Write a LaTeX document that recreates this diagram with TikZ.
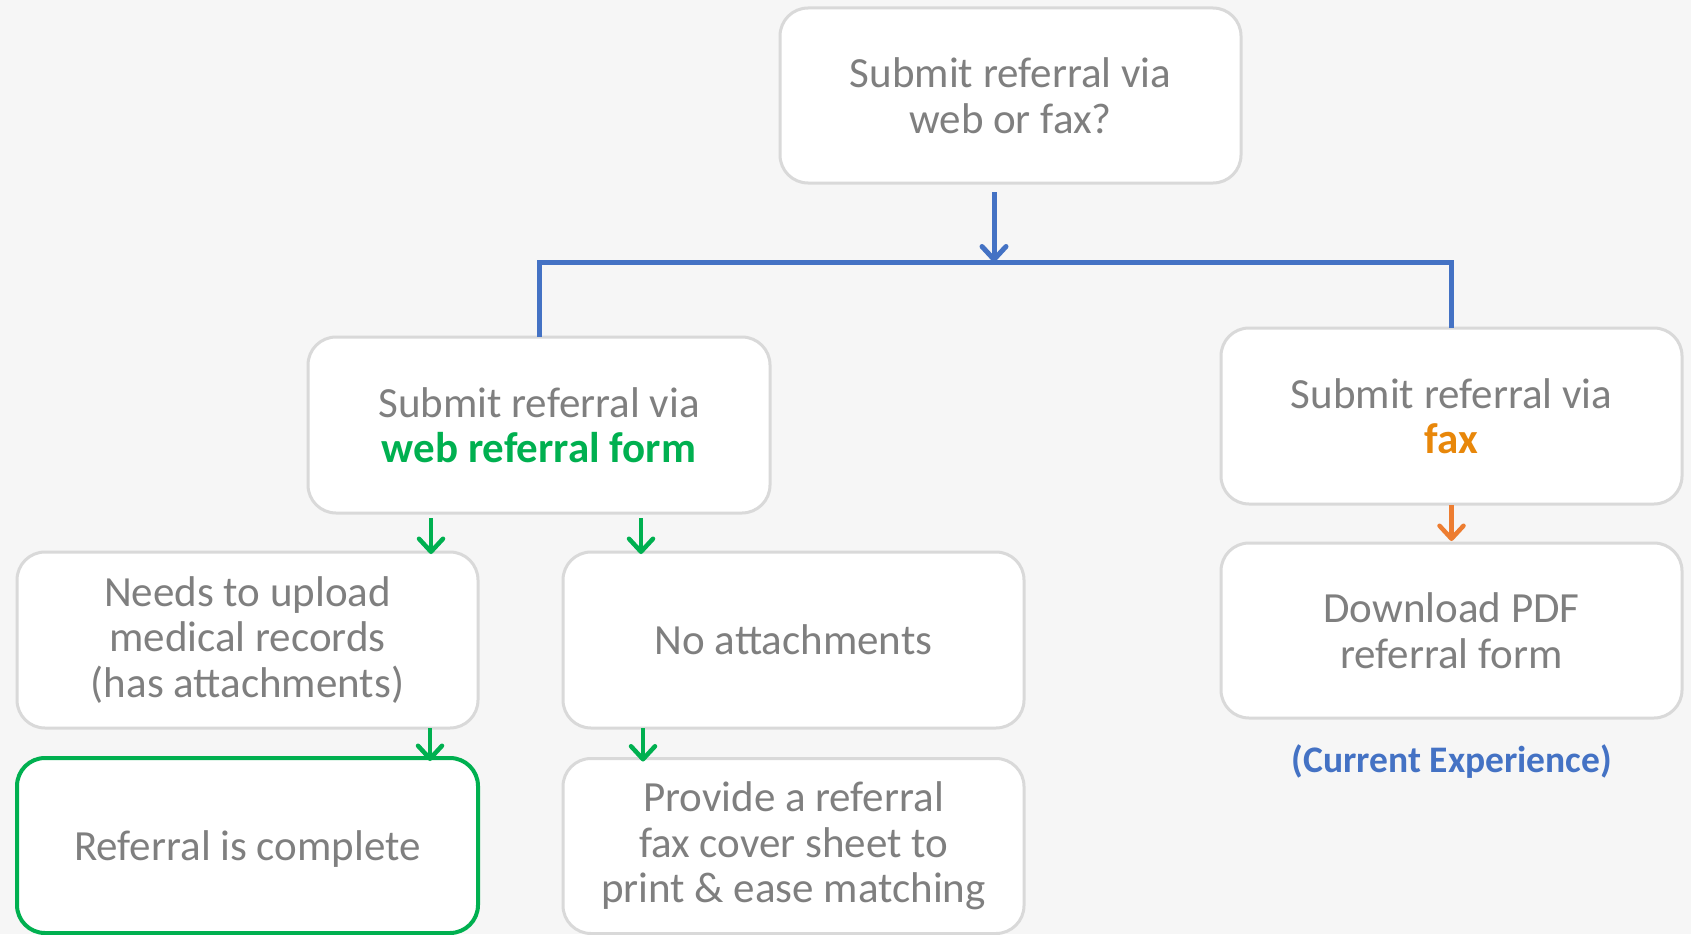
\documentclass[tikz,border=0pt]{standalone}
\usepackage{fontspec}
\setmainfont{Carlito}
\usetikzlibrary{arrows.meta}
\definecolor{bgcol}{HTML}{F6F6F6}
\definecolor{boxline}{HTML}{D9D9D9}
\definecolor{txtgray}{HTML}{7F7F7F}
\definecolor{flowblue}{HTML}{4472C4}
\definecolor{flowgreen}{HTML}{00B050}
\definecolor{faxorange}{HTML}{E8870A}
\definecolor{arroworange}{HTML}{ED7D31}
\tikzset{
  box/.style={draw=boxline, line width=3pt, fill=white, rounded corners=28pt,
    minimum width=461pt, minimum height=175pt, inner sep=0pt, outer sep=0pt,
    align=center, text=txtgray, font=\fontsize{43}{45.5}\selectfont},
  donebox/.style={box, draw=flowgreen, line width=4pt},
  bline/.style={draw=flowblue, line width=5pt, line join=miter},
  tipstyle/.style={-{Straight Barb[length=13pt,width=24pt,line cap=round,line join=round]}},
  barrow/.style={draw=flowblue, line width=5pt, tipstyle},
  garrow/.style={draw=flowgreen, line width=4.5pt, tipstyle},
  oarrow/.style={draw=arroworange, line width=4.5pt, tipstyle},
}
\begin{document}
\begin{tikzpicture}[x=1pt,y=-1pt]
  \fill[bgcol] (0,0) rectangle (1691,934);
  \useasboundingbox (0,0) rectangle (1691,934);

  % boxes
  \node[box] (top) at (1010.5,95.5) {Submit referral via\\web or fax?};
  \node[box, minimum width=462pt, minimum height=176pt] (web) at (539,425)
    {Submit referral via\\\textcolor{flowgreen}{\bfseries web referral form}};
  \node[box, minimum height=176pt] (fax) at (1451.5,416)
    {Submit referral via\\\textcolor{faxorange}{\bfseries fax}};
  \node[box] (dl) at (1451.5,630.5) {Download PDF\\referral form};
  \node[box, minimum height=176pt] (needs) at (247.5,640)
    {Needs to upload\\medical records\\(has attachments)};
  \node[box, minimum height=176pt] (noatt) at (793.5,640) {No attachments};
  \node[donebox] (done) at (247.5,845.5)
    {\raisebox{0pt}[\dimexpr\height+8pt\relax][\depth]{Referral is complete}};
  \node[box, minimum height=175pt] (provide) at (793.5,846)
    {Provide a referral\\fax cover sheet to\\print \& ease matching};
  \node[text=flowblue, font=\fontsize{37.5}{40}\selectfont\bfseries] (note) at (1452,762)
    {(Current Experience)};

  % branch from the first question
  \coordinate (junction) at (994,262);
  \draw[bline] (web.north) |- (junction) -| (fax.north);
  \draw[barrow, shorten <=9pt] (top.south -| junction) -- (junction);

  % web branch arrows
  \coordinate (gx1) at (431,0);
  \coordinate (gx2) at (641,0);
  \coordinate (gx3) at (430,0);
  \coordinate (gx4) at (643,0);
  \draw[garrow, shorten <=5pt, shorten >=-2pt] (web.south -| gx1) -- (needs.north -| gx1);
  \draw[garrow, shorten <=5pt, shorten >=-2pt] (web.south -| gx2) -- (noatt.north -| gx2);
  \draw[garrow, shorten >=-3pt] (needs.south -| gx3) -- (done.north -| gx3);
  \draw[garrow, shorten >=-3pt] (noatt.south -| gx4) -- (provide.north -| gx4);

  % fax branch arrow
  \draw[oarrow, shorten <=1pt, shorten >=2pt] (fax.south) -- (dl.north);
\end{tikzpicture}
\end{document}
